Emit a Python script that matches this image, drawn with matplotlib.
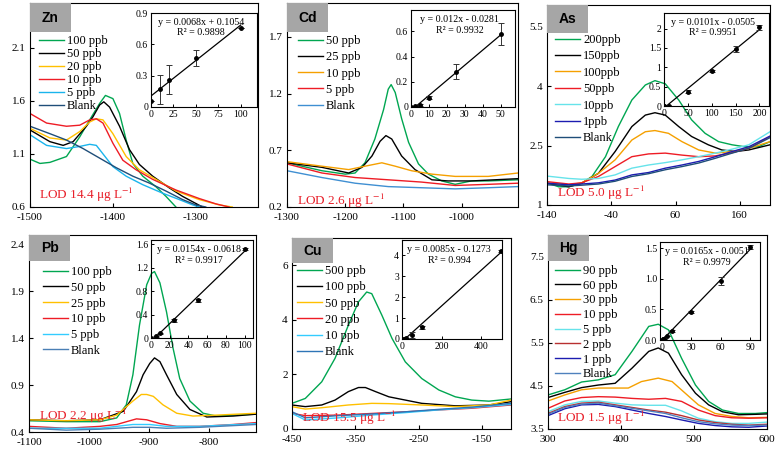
import numpy as np
import matplotlib
matplotlib.use("Agg")
import matplotlib.pyplot as plt
from matplotlib.patches import Rectangle

plt.rcParams['font.family'] = ['Liberation Serif', 'DejaVu Serif']
plt.rcParams['mathtext.fontset'] = 'stix'
plt.rcParams['axes.unicode_minus'] = False

W, H = 780, 455

GREEN = '#00a651'
BLACK = '#000000'
YELLOW = '#ffc000'
ORANGE = '#f5a000'
RED = '#ee1c25'
CYAN = '#1ab4ec'
LCYAN = '#66e3ea'
NAVY = '#1f4e79'
BLUE = '#3f8fd2'
STEEL = '#4f81bd'
DBLUE = '#1c1cb0'
DRED = '#b83030'

# ---------------- Zn ----------------
zn_labels = ['100 ppb', '50 ppb', '20 ppb', '10 ppb', '5 ppb', 'Blank']
zn_colors = [GREEN, BLACK, YELLOW, RED, CYAN, NAVY]
zn_x = [
    [-1500, -1488, -1476, -1456, -1440, -1428, -1416, -1409, -1400, -1392, -1384, -1376, -1364, -1348, -1336, -1330, -1324],
    [-1500, -1476, -1460, -1448, -1432, -1424, -1416, -1411, -1404, -1392, -1380, -1368, -1352, -1332, -1316, -1304, -1292],
    [-1500, -1476, -1456, -1440, -1428, -1420, -1412, -1400, -1384, -1368, -1348, -1324, -1296, -1272, -1256],
    [-1500, -1480, -1456, -1440, -1428, -1420, -1412, -1400, -1388, -1372, -1352, -1324, -1296, -1276, -1260],
    [-1500, -1480, -1456, -1440, -1428, -1420, -1412, -1400, -1384, -1364, -1340, -1320, -1304, -1296],
    [-1500, -1476, -1456, -1436, -1416, -1396, -1376, -1356, -1336, -1316, -1300, -1288],
]
zn_y = [
    [1.05, 1.01, 1.02, 1.075, 1.26, 1.42, 1.575, 1.65, 1.62, 1.48, 1.23, 1.01, 0.89, 0.79, 0.70, 0.65, 0.60],
    [1.325, 1.215, 1.18, 1.215, 1.36, 1.45, 1.56, 1.59, 1.54, 1.36, 1.14, 1.0, 0.89, 0.78, 0.70, 0.65, 0.60],
    [1.34, 1.25, 1.23, 1.31, 1.40, 1.43, 1.42, 1.29, 1.075, 0.95, 0.86, 0.75, 0.67, 0.62, 0.60],
    [1.48, 1.39, 1.36, 1.37, 1.42, 1.43, 1.39, 1.2, 1.04, 0.95, 0.86, 0.76, 0.68, 0.63, 0.60],
    [1.28, 1.18, 1.15, 1.17, 1.19, 1.18, 1.1, 0.98, 0.89, 0.81, 0.73, 0.67, 0.62, 0.60],
    [1.36, 1.29, 1.23, 1.15, 1.06, 0.97, 0.89, 0.825, 0.75, 0.67, 0.62, 0.60],
]
zn_cal_x = [0, 10, 20, 50, 100]
zn_cal_y = [0.06, 0.17, 0.26, 0.47, 0.76]
zn_cal_err = [0, 0.14, 0.14, 0.08, 0]
zn_fit = (0.0068, 0.1054, 0, 100)

# ---------------- Cd ----------------
cd_labels = ['50 ppb', '25 ppb', '10 ppb', '5 ppb', 'Blank']
cd_colors = [GREEN, BLACK, ORANGE, RED, BLUE]
cd_x = [
    [-1300, -1240, -1200, -1183, -1166, -1149, -1134, -1126, -1121, -1114, -1103, -1091, -1074, -1057, -1034, -1011, -983, -954, -903],
    [-1300, -1240, -1194, -1171, -1154, -1140, -1130, -1120, -1103, -1080, -1051, -1023, -983, -903],
    [-1300, -1240, -1194, -1166, -1137, -1114, -1086, -1051, -1011, -954, -903],
    [-1300, -1240, -1183, -1126, -1069, -1011, -954, -903],
    [-1300, -1240, -1183, -1126, -1069, -1011, -954, -903],
]
cd_y = [
    [0.59, 0.52, 0.49, 0.50, 0.59, 0.80, 1.06, 1.24, 1.28, 1.21, 0.98, 0.77, 0.58, 0.49, 0.43, 0.40, 0.43, 0.43, 0.44],
    [0.59, 0.55, 0.50, 0.55, 0.65, 0.78, 0.83, 0.80, 0.65, 0.53, 0.44, 0.43, 0.43, 0.45],
    [0.60, 0.56, 0.53, 0.56, 0.59, 0.56, 0.52, 0.49, 0.47, 0.47, 0.50],
    [0.58, 0.50, 0.46, 0.44, 0.42, 0.39, 0.40, 0.41],
    [0.52, 0.46, 0.41, 0.38, 0.37, 0.36, 0.37, 0.38],
]
cd_cal_x = [0, 2, 5, 10, 25, 50]
cd_cal_y = [0.0, 0.005, 0.015, 0.075, 0.28, 0.58]
cd_cal_err = [0, 0, 0.01, 0.01, 0.06, 0.085]
cd_fit = (0.012, -0.0281, 2.3, 50)

# ---------------- As ----------------
as_labels = ['200ppb', '150ppb', '100ppb', '50ppb', '10ppb', '1ppb', 'Blank']
as_colors = [GREEN, BLACK, ORANGE, RED, LCYAN, DBLUE, NAVY]
as_xs = [-140, -106, -86, -60, -34, -8, 18, 44, 70, 96, 122, 148, 174, 207]
as_x = [
    [-140, -122, -106, -86, -70, -49, -29, -8, 13, 28, 44, 65, 85, 106, 127, 148, 168, 189, 207],
    [-140, -106, -86, -60, -34, -8, 13, 28, 44, 65, 85, 111, 132, 153, 174, 207],
    [-140, -106, -86, -60, -34, -8, 13, 28, 49, 70, 96, 122, 148, 174, 207],
    as_xs, as_xs, as_xs, as_xs,
]
as_y = [
    [1.56, 1.46, 1.46, 1.55, 1.72, 2.22, 2.98, 3.65, 4.03, 4.14, 4.06, 3.65, 3.15, 2.81, 2.60, 2.52, 2.47, 2.47, 2.60],
    [1.55, 1.46, 1.55, 1.80, 2.35, 2.98, 3.27, 3.33, 3.27, 2.98, 2.73, 2.52, 2.39, 2.35, 2.39, 2.52],
    [1.56, 1.51, 1.56, 1.80, 2.14, 2.64, 2.85, 2.88, 2.81, 2.60, 2.39, 2.31, 2.35, 2.43, 2.60],
    [1.59, 1.53, 1.56, 1.72, 1.97, 2.22, 2.29, 2.31, 2.26, 2.22, 2.24, 2.32, 2.43, 2.73],
    [1.73, 1.67, 1.65, 1.67, 1.76, 1.93, 2.01, 2.07, 2.14, 2.22, 2.31, 2.41, 2.52, 2.85],
    [1.55, 1.51, 1.53, 1.56, 1.63, 1.76, 1.82, 1.93, 2.01, 2.10, 2.22, 2.35, 2.47, 2.74],
    [1.51, 1.48, 1.50, 1.53, 1.60, 1.72, 1.79, 1.89, 1.97, 2.06, 2.18, 2.31, 2.43, 2.70],
]
as_cal_x = [0, 1, 10, 50, 100, 150, 200]
as_cal_y = [0, 0, 0.01, 0.37, 0.91, 1.48, 2.03]
as_cal_err = [0, 0, 0, 0.04, 0.03, 0.08, 0.06]
as_fit = (0.0101, -0.0505, 5, 200)

# ---------------- Pb ----------------
pb_labels = ['100 ppb', '50 ppb', '25 ppb', '10 ppb', '5 ppb', 'Blank']
pb_colors = [GREEN, BLACK, YELLOW, RED, '#33ccff', '#4a7fb5']
pb_xs = [-1100, -1038, -982, -927, -899, -871, -816, -722]
pb_x = [
    [-1100, -1038, -982, -954, -938, -927, -916, -904, -896, -891, -882, -871, -860, -849, -832, -810, -788, -760, -722],
    [-1100, -1038, -982, -943, -921, -910, -899, -891, -882, -871, -854, -832, -804, -760, -722],
    [-1100, -1038, -982, -954, -927, -913, -904, -893, -877, -854, -827, -788, -722],
    [-1100, -1038, -982, -954, -932, -921, -904, -882, -854, -816, -760, -722],
    pb_xs, pb_xs,
]
pb_y = [
    [0.52, 0.51, 0.51, 0.55, 0.69, 1.01, 1.54, 1.97, 2.09, 2.11, 1.99, 1.68, 1.29, 0.97, 0.73, 0.60, 0.57, 0.58, 0.59],
    [0.53, 0.52, 0.53, 0.62, 0.83, 1.01, 1.13, 1.19, 1.15, 1.01, 0.80, 0.64, 0.56, 0.57, 0.59],
    [0.53, 0.52, 0.53, 0.58, 0.73, 0.80, 0.80, 0.78, 0.69, 0.60, 0.57, 0.58, 0.60],
    [0.46, 0.44, 0.46, 0.48, 0.52, 0.54, 0.53, 0.49, 0.46, 0.46, 0.48, 0.50],
    [0.44, 0.44, 0.44, 0.48, 0.48, 0.46, 0.46, 0.49],
    [0.44, 0.42, 0.43, 0.45, 0.45, 0.44, 0.45, 0.48],
]
pb_cal_x = [0, 5, 10, 25, 50, 100]
pb_cal_y = [0, 0.03, 0.08, 0.30, 0.64, 1.52]
pb_cal_err = [0, 0.01, 0.01, 0.02, 0.02, 0.02]
pb_fit = (0.0154, -0.0618, 4, 100)

# ---------------- Cu ----------------
cu_labels = ['500 ppb', '100 ppb', '50 ppb', '20 ppb', '10 ppb', 'Blank']
cu_colors = [GREEN, BLACK, YELLOW, RED, '#33ccff', '#2e75b6']
cu_xs = [-450, -429, -376, -324, -271, -218, -166, -104]
cu_x = [
    [-450, -429, -403, -382, -361, -345, -332, -324, -308, -292, -271, -245, -218, -192, -166, -139, -104],
    [-450, -429, -403, -382, -361, -345, -334, -318, -297, -271, -245, -192, -139, -104],
    [-450, -429, -403, -361, -324, -297, -245, -192, -139, -104],
    cu_xs, cu_xs, cu_xs,
]
cu_y = [
    [0.94, 1.12, 1.73, 2.59, 3.80, 4.66, 5.02, 4.96, 4.17, 3.32, 2.46, 1.85, 1.43, 1.18, 1.06, 1.02, 1.10],
    [0.88, 0.82, 0.88, 1.06, 1.37, 1.52, 1.52, 1.37, 1.18, 1.06, 0.94, 0.85, 0.88, 1.0],
    [0.82, 0.73, 0.78, 0.88, 0.94, 0.93, 0.88, 0.82, 0.88, 1.06],
    [0.57, 0.49, 0.51, 0.57, 0.63, 0.70, 0.76, 0.88],
    [0.57, 0.33, 0.41, 0.51, 0.60, 0.70, 0.78, 0.90],
    [0.63, 0.41, 0.49, 0.55, 0.63, 0.72, 0.80, 0.94],
]
cu_cal_x = [0, 10, 20, 50, 100, 500]
cu_cal_y = [0, 0.02, 0.07, 0.20, 0.55, 4.2]
cu_cal_err = [0, 0, 0, 0.15, 0.05, 0.05]
cu_fit = (0.0085, -0.1273, 15, 500)

# ---------------- Hg ----------------
hg_labels = ['90 ppb', '60 ppb', '30 ppb', '10 ppb', '5 ppb', '2 ppb', '1 ppb', 'Blank']
hg_colors = [GREEN, BLACK, ORANGE, RED, LCYAN, DRED, DBLUE, STEEL]
hg_xs = [300, 323, 346, 369, 392, 415, 438, 461, 483, 506, 529, 552, 575, 600]
hg_x = [
    [300, 323, 346, 369, 392, 415, 438, 451, 465, 483, 502, 520, 539, 561, 584, 600],
    [300, 323, 346, 369, 392, 415, 438, 451, 465, 483, 502, 520, 539, 561, 584, 600],
    [300, 323, 346, 369, 392, 410, 428, 451, 470, 488, 506, 529, 552, 575, 600],
    hg_xs, hg_xs, hg_xs, hg_xs, hg_xs,
]
hg_y = [
    [4.29, 4.41, 4.59, 4.64, 4.76, 5.30, 5.88, 5.93, 5.80, 5.14, 4.52, 4.14, 3.94, 3.86, 3.86, 3.88],
    [4.23, 4.35, 4.46, 4.52, 4.56, 4.91, 5.30, 5.38, 5.26, 4.76, 4.33, 4.06, 3.90, 3.83, 3.84, 3.85],
    [4.15, 4.29, 4.41, 4.45, 4.45, 4.45, 4.60, 4.68, 4.60, 4.33, 4.06, 3.86, 3.79, 3.76, 3.77],
    [3.98, 4.15, 4.23, 4.25, 4.24, 4.21, 4.19, 4.21, 4.14, 3.94, 3.81, 3.76, 3.75, 3.76],
    [3.90, 4.06, 4.14, 4.15, 4.10, 4.06, 4.05, 4.05, 3.92, 3.75, 3.67, 3.63, 3.63, 3.66],
    [3.86, 4.02, 4.10, 4.12, 4.06, 4.00, 3.94, 3.89, 3.81, 3.71, 3.65, 3.61, 3.59, 3.61],
    [3.81, 3.97, 4.06, 4.07, 4.02, 3.94, 3.86, 3.79, 3.71, 3.63, 3.58, 3.55, 3.54, 3.57],
    [3.84, 4.00, 4.08, 4.10, 4.04, 3.98, 3.92, 3.86, 3.76, 3.67, 3.62, 3.59, 3.58, 3.59],
]
hg_cal_x = [0, 1, 2, 5, 10, 30, 60, 90]
hg_cal_y = [0, 0.01, 0.02, 0.07, 0.15, 0.46, 0.96, 1.52]
hg_cal_err = [0, 0, 0, 0, 0.02, 0.02, 0.07, 0.03]
hg_fit = (0.0165, -0.0051, 0.3, 90)


def frac(l, t, r, b):
    # pixel box -> figure fraction
    return [l / W, 1 - b / H, (r - l) / W, (b - t) / H]


fig = plt.figure(figsize=(W / 100, H / 100), dpi=100)


def panel(rect, xs, ys, labels, colors, xlim, ylim, xticks, yticks, yticklabels,
          name, box_h, lod, lod_pos, leg_pos, leg_space):
    ax = fig.add_axes(frac(*rect))
    for x, y, c, lab in zip(xs, ys, colors, labels):
        ax.plot(x, y, color=c, lw=1.0, label=lab)
    ax.set_xlim(*xlim)
    ax.set_ylim(*ylim)
    ax.set_xticks(xticks)
    ax.set_xticklabels([str(v) for v in xticks])
    ax.set_yticks(yticks)
    ax.set_yticklabels(yticklabels)
    ax.tick_params(direction='in', length=3, width=0.8, labelsize=8, pad=3)
    ax.tick_params(axis='x', pad=4.5)
    for s in ax.spines.values():
        s.set_linewidth(0.8)
    l, t = rect[0], rect[1]
    fig.add_artist(Rectangle((l / W, 1 - (t + box_h) / H), 41 / W, box_h / H,
                             transform=fig.transFigure, facecolor='#a6a6a6',
                             edgecolor='none'))
    fig.text((l + 20.5) / W, 1 - (t + box_h / 2) / H, name, ha='center', va='center',
             fontsize=10, fontweight='bold', family='Liberation Sans')
    fig.text(lod_pos[0] / W, 1 - lod_pos[1] / H, lod, color='#e8202a', fontsize=9.5,
             va='center', ha='left')
    ax.legend(loc='upper left', bbox_to_anchor=(leg_pos[0] / W, 1 - leg_pos[1] / H),
              bbox_transform=fig.transFigure, frameon=False, fontsize=9,
              handlelength=2.0, handletextpad=0.25, labelspacing=leg_space,
              borderpad=0, borderaxespad=0)
    return ax


def inset(rect, cx, cy, err, fit, xlim, ylim, xticks, yticks, yticklabels, eq, r2):
    ax = fig.add_axes(frac(*rect))
    ax.patch.set_alpha(0)
    slope, icpt, x0, x1 = fit
    fx = np.array([x0, x1])
    ax.plot(fx, slope * fx + icpt, color='black', lw=0.9)
    ax.errorbar(cx, cy, yerr=err, fmt='o', ms=2.5, color='black', ecolor='#333333',
                elinewidth=0.7, capsize=2, capthick=0.7)
    ax.set_xlim(*xlim)
    ax.set_ylim(*ylim)
    ax.set_xticks(xticks)
    ax.set_xticklabels([str(v) for v in xticks])
    ax.set_yticks(yticks)
    ax.set_yticklabels(yticklabels)
    ax.tick_params(direction='in', length=2, width=0.7, labelsize=7, pad=2)
    for s in ax.spines.values():
        s.set_linewidth(0.8)
    ax.text(0.47, 0.9, eq, transform=ax.transAxes, ha='center', va='center', fontsize=7.2)
    ax.text(0.47, 0.79, r2, transform=ax.transAxes, ha='center', va='center', fontsize=7.2)
    return ax


# Zn
panel((30, 3, 258, 207), zn_x, zn_y, zn_labels, zn_colors, (-1500, -1225), (0.6, 2.52),
      [-1500, -1400, -1300], [0.6, 1.1, 1.6, 2.1], ['0.6', '1.1', '1.6', '2.1'],
      'Zn', 29, r'LOD 14.4 μg L$^{-1}$', (39, 195), (39, 35), 0.08)
inset((151, 13, 257, 107), zn_cal_x, zn_cal_y, zn_cal_err, zn_fit, (0, 118), (0, 0.9),
      [0, 25, 50, 75, 100], [0, 0.3, 0.6, 0.9], ['0', '0.3', '0.6', '0.9'],
      'y = 0.0068x + 0.1054', 'R² = 0.9898')

# Cd
panel((287, 3, 518, 207), cd_x, cd_y, cd_labels, cd_colors, (-1300, -903), (0.2, 2.0),
      [-1300, -1200, -1100, -1000], [0.2, 0.7, 1.2, 1.7], ['0.2', '0.7', '1.2', '1.7'],
      'Cd', 29, r'LOD 2.6 μg L$^{-1}$', (297, 201), (298, 35), 0.34)
inset((411, 10, 515, 107), cd_cal_x, cd_cal_y, cd_cal_err, cd_fit, (0, 58), (0, 0.77),
      [0, 10, 20, 30, 40, 50], [0, 0.2, 0.4, 0.6], ['0', '0.2', '0.4', '0.6'],
      'y = 0.012x - 0.0281', 'R² = 0.9932')

# As
panel((547, 5, 770, 205), as_x, as_y, as_labels, as_colors, (-140, 207), (1, 6.05),
      [-140, -40, 60, 160], [1, 2.5, 4, 5.5], ['1', '2.5', '4', '5.5'],
      'As', 28, r'LOD 5.0 μg L$^{-1}$', (557, 193), (555, 34), 0.35)
inset((664, 13, 769, 106), as_cal_x, as_cal_y, as_cal_err, as_fit, (0, 220), (0, 2.4),
      [0, 50, 100, 150, 200], [0, 0.5, 1, 1.5, 2], ['0', '0.5', '1', '1.5', '2'],
      'y = 0.0101x - 0.0505', 'R² = 0.9951')

# Pb
panel((29, 235, 256, 432), pb_x, pb_y, pb_labels, pb_colors, (-1100, -722), (0.4, 2.5),
      [-1100, -1000, -900, -800], [0.4, 0.9, 1.4, 1.9, 2.4],
      ['0.4', '0.9', '1.4', '1.9', '2.4'],
      'Pb', 26, r'LOD 2.2 μg L$^{-1}$', (39, 416), (43, 266), 0.3)
inset((151, 240, 253, 338), pb_cal_x, pb_cal_y, pb_cal_err, pb_fit, (0, 109), (0, 1.67),
      [0, 20, 40, 60, 80, 100], [0, 0.4, 0.8, 1.2, 1.6], ['0', '0.4', '0.8', '1.2', '1.6'],
      'y = 0.0154x - 0.0618', 'R² = 0.9917')

# Cu
panel((292, 238, 511, 429), cu_x, cu_y, cu_labels, cu_colors, (-450, -104), (0, 7),
      [-450, -350, -250, -150], [0, 2, 4, 6], ['0', '2', '4', '6'],
      'Cu', 25, r'LOD 15.5 μg L$^{-1}$', (302, 418), (297, 265), 0.34)
inset((402, 240, 502, 339), cu_cal_x, cu_cal_y, cu_cal_err, cu_fit, (0, 506), (0, 4.72),
      [0, 200, 400], [0, 1, 2, 3, 4], ['0', '1', '2', '3', '4'],
      'y = 0.0085x - 0.1273', 'R² = 0.994')

# Hg
panel((548, 235, 767, 429), hg_x, hg_y, hg_labels, hg_colors, (300, 600), (3.5, 8.0),
      [300, 400, 500, 600], [3.5, 4.5, 5.5, 6.5, 7.5], ['3.5', '4.5', '5.5', '6.5', '7.5'],
      'Hg', 26, r'LOD 1.5 μg L$^{-1}$', (557, 418), (555, 265), 0.22)
inset((660, 242, 760, 340), hg_cal_x, hg_cal_y, hg_cal_err, hg_fit, (-2, 100), (0, 1.6),
      [0, 30, 60, 90], [0, 0.5, 1.0, 1.5], ['0.0', '0.5', '1.0', '1.5'],
      'y = 0.0165x - 0.0051', 'R² = 0.9979')

fig.savefig('out.png', dpi=100)
